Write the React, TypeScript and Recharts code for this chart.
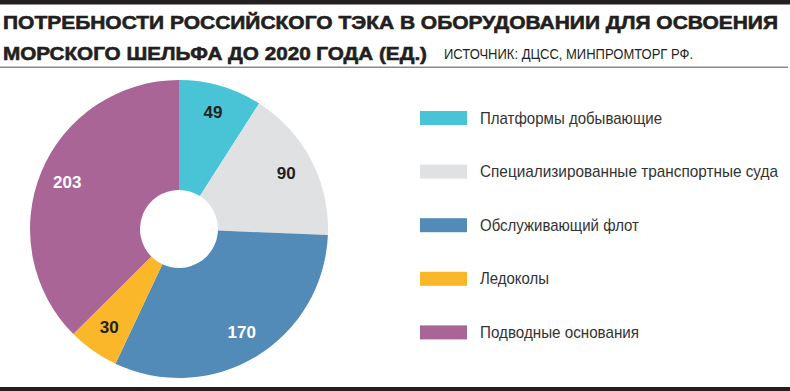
import React from "react";
import { PieChart, Pie, Cell, Legend } from "recharts";

const categories = [
  "Платформы добывающие",
  "Специализированные транспортные суда",
  "Обслуживающий флот",
  "Ледоколы",
  "Подводные основания",
];
const values = [49, 90, 170, 30, 203];
const colors = ["#49C4D6", "#E0E1E3", "#528AB8", "#FBB72A", "#A96596"];
const labelColors = ["#231F20", "#231F20", "#FFFFFF", "#231F20", "#FFFFFF"];
const titleLines = [
  "ПОТРЕБНОСТИ РОССИЙСКОГО ТЭКА В ОБОРУДОВАНИИ ДЛЯ ОСВОЕНИЯ",
  "МОРСКОГО ШЕЛЬФА ДО 2020 ГОДА (ЕД.)",
];
const sourceText = "ИСТОЧНИК: ДЦСС, МИНПРОМТОРГ РФ.";

const data = categories.map((name, i) => ({ name, value: values[i] }));

const legendWidths = [182, 298, 159, 69, 159];

const RAD = Math.PI / 180;

const renderLabel = (props: any) => {
  const { cx, cy, midAngle, index, value } = props;
  const r = 121;
  const x = cx + r * Math.cos(-midAngle * RAD);
  const y = cy + r * Math.sin(-midAngle * RAD);
  return (
    <text
      x={x}
      y={y}
      fill={labelColors[index]}
      textAnchor="middle"
      dominantBaseline="central"
      fontFamily="Liberation Sans, Arial, sans-serif"
      fontWeight={700}
      fontSize={17}
    >
      {value}
    </text>
  );
};

const LegendContent = () => (
  <svg width={390} height={260} style={{ display: "block", overflow: "visible" }}>
    {categories.map((c, i) => {
      const cy = 28 + i * 53.6;
      return (
        <g key={c}>
          <rect x={20} y={cy - 7} width={47} height={14} fill={colors[i]} />
          <text
            x={80}
            y={cy}
            dominantBaseline="central"
            fontFamily="Liberation Sans, Arial, sans-serif"
            fontSize={17}
            fill="#333333"
            textLength={legendWidths[i]}
            lengthAdjust="spacingAndGlyphs"
          >
            {c}
          </text>
        </g>
      );
    })}
  </svg>
);

export default function App() {
  return (
    <div style={{ position: "absolute", left: 0, top: 0, width: 790, height: 391, background: "#fff" }}>
      <PieChart
        width={790}
        height={391}
        margin={{ top: 0, right: 0, bottom: 0, left: 0 }}
        style={{ position: "absolute", left: 0, top: 0 }}
      >
        <rect x={0} y={0} width={790} height={4.5} fill="#231F20" />
        <rect x={0} y={387} width={790} height={4} fill="#231F20" />
        <rect x={0} y={66.5} width={788} height={1.5} fill="#8A8A8A" />
        <text
          x={3}
          y={28.5}
          fontFamily="Liberation Sans, Arial, sans-serif"
          fontWeight={700}
          fontSize={19}
          fill="#231F20"
          stroke="#231F20"
          strokeWidth={0.6}
          textLength={775}
          lengthAdjust="spacingAndGlyphs"
        >
          {titleLines[0]}
        </text>
        <text
          x={3}
          y={59.5}
          fontFamily="Liberation Sans, Arial, sans-serif"
          fontWeight={700}
          fontSize={19}
          fill="#231F20"
          stroke="#231F20"
          strokeWidth={0.6}
          textLength={424}
          lengthAdjust="spacingAndGlyphs"
        >
          {titleLines[1]}
        </text>
        <text
          x={444}
          y={58.5}
          fontFamily="Liberation Sans, Arial, sans-serif"
          fontSize={14}
          fill="#231F20"
          textLength={249}
          lengthAdjust="spacingAndGlyphs"
        >
          {sourceText}
        </text>
        <Pie
          data={data}
          dataKey="value"
          nameKey="name"
          cx={179}
          cy={229}
          outerRadius={149}
          innerRadius={39}
          startAngle={90}
          endAngle={-270}
          stroke="none"
          label={renderLabel}
          labelLine={false}
          isAnimationActive={false}
        >
          {data.map((d, i) => (
            <Cell key={d.name} fill={colors[i]} />
          ))}
        </Pie>
        <Legend
          content={LegendContent}
          wrapperStyle={{ position: "absolute", left: 400, top: 90, width: 390, height: 260 }}
        />
      </PieChart>
    </div>
  );
}
